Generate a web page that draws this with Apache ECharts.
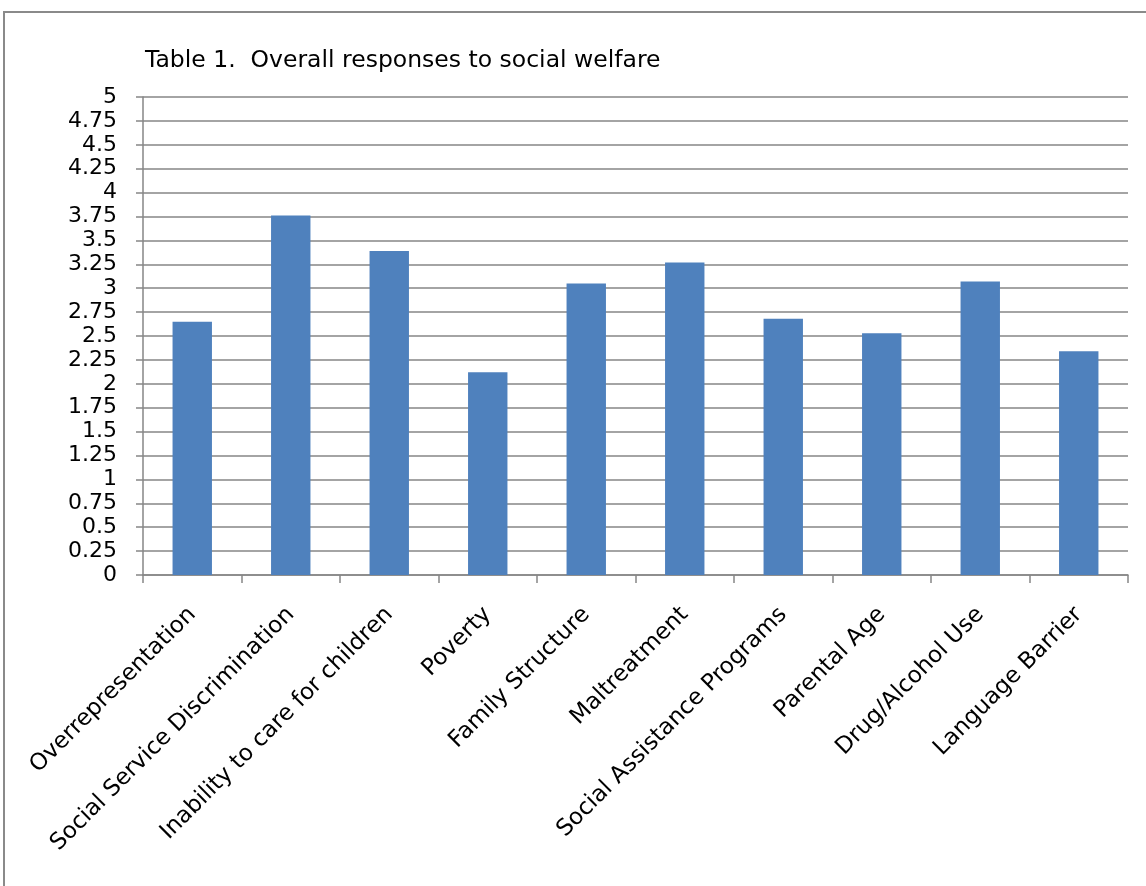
<!DOCTYPE html>
<html>
<head>
<meta charset="utf-8">
<script src="https://cdn.jsdelivr.net/npm/echarts@6/dist/echarts.min.js"></script>
<style>
html,body{margin:0;padding:0;background:#fff;}
#chart{width:1146px;height:886px;}
</style>
</head>
<body>
<div id="chart"></div>
<script>
const titleText = 'Table 1.  Overall responses to social welfare';
const categories = ['Overrepresentation','Social Service Discrimination','Inability to care for children','Poverty','Family Structure','Maltreatment','Social Assistance Programs','Parental Age','Drug/Alcohol Use','Language Barrier'];
const values = [2.65, 3.76, 3.39, 2.12, 3.05, 3.27, 2.68, 2.53, 3.07, 2.34];
const yMin = 0, yMax = 5, yStep = 0.25;

const FONT = 'DejaVu Sans';
const chart = echarts.init(document.getElementById('chart'), null, {renderer:'canvas'});
chart.setOption({
  animation:false,
  backgroundColor:'#ffffff',
  graphic:[{type:'rect', shape:{x:4,y:12,width:1300,height:1000}, style:{fill:'none', stroke:'#8a8a8a', lineWidth:2}, silent:true, z:-1}],
  title:{text:titleText, left:140, top:44, textStyle:{fontFamily:FONT, fontSize:23.5, fontWeight:'normal', color:'#000'}},
  grid:{left:143, right:18, top:97, bottom:311, containLabel:false},
  xAxis:{type:'category', data:categories,
    axisLine:{lineStyle:{color:'#868686', width:1.5}},
    axisTick:{show:true, alignWithLabel:false, length:8, lineStyle:{color:'#868686', width:1.5}},
    axisLabel:{interval:0, rotate:45, margin:36, fontFamily:FONT, fontSize:23, color:'#000'}},
  yAxis:{type:'value', min:yMin, max:yMax, interval:yStep,
    axisLine:{show:true, lineStyle:{color:'#868686', width:1.5}},
    axisTick:{show:true, length:7, lineStyle:{color:'#868686', width:1.5}},
    splitLine:{lineStyle:{color:'#868686', width:1.5}},
    axisLabel:{margin:26, fontFamily:FONT, fontSize:22, color:'#000'}},
  series:[{type:'bar', data:values, barWidth:'40%', itemStyle:{color:'#4f81bd'}}]
});
</script>
</body>
</html>
